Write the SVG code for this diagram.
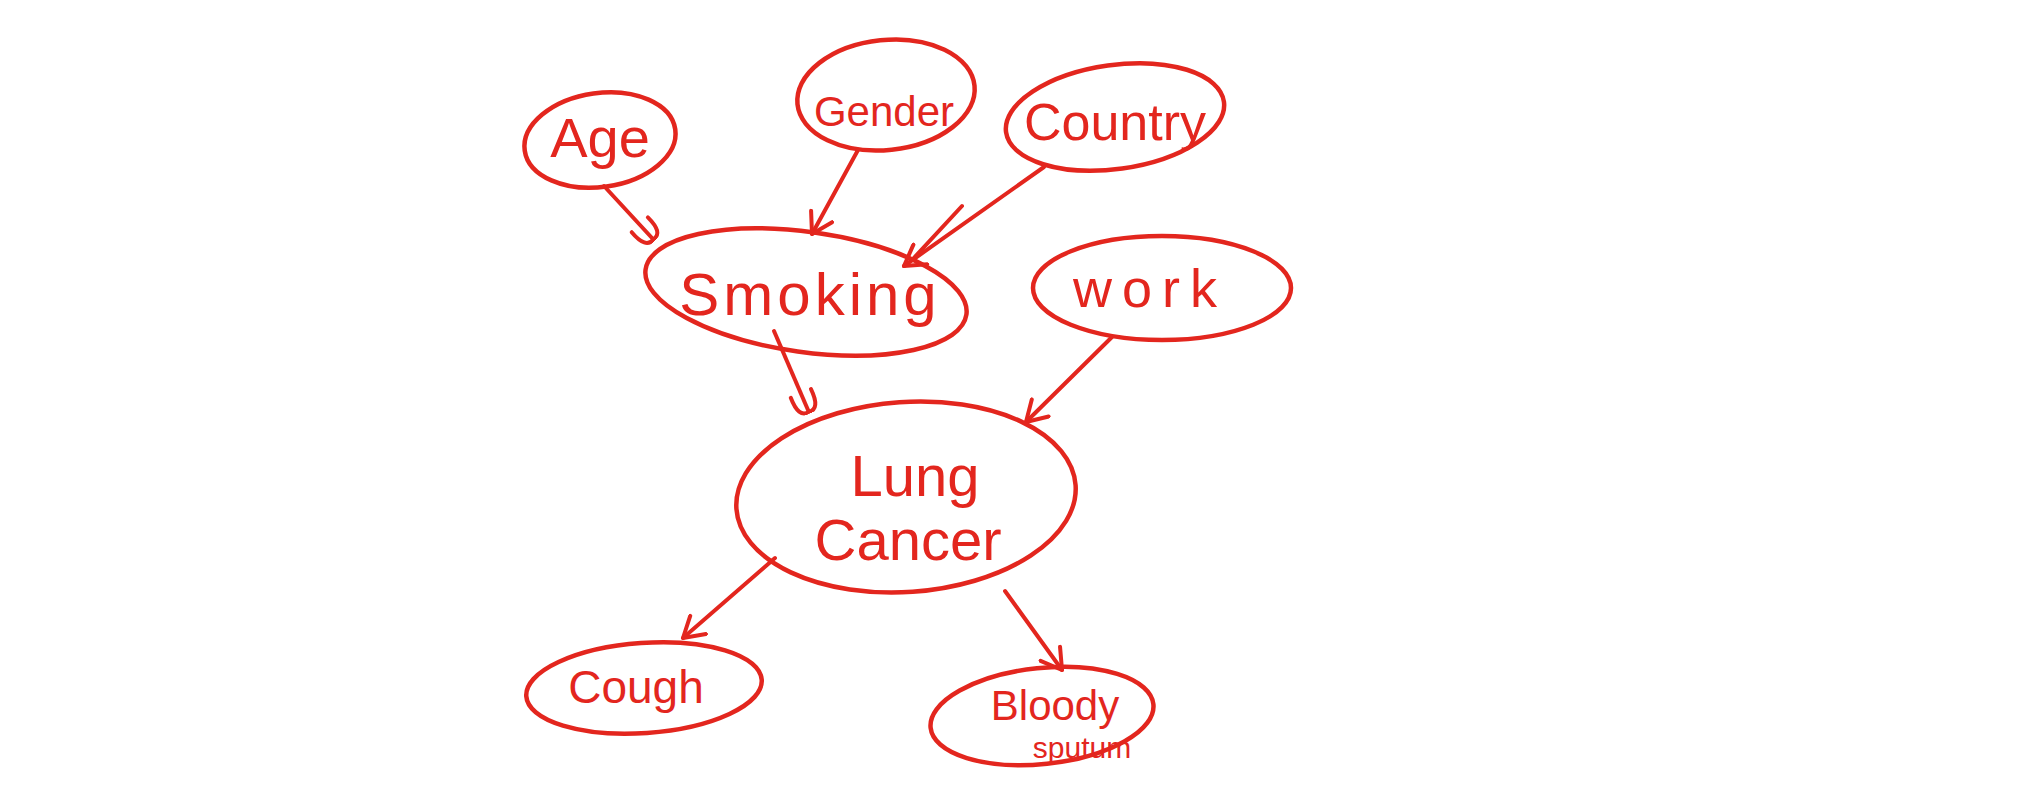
<svg xmlns="http://www.w3.org/2000/svg" width="2033" height="792" viewBox="0 0 2033 792">
<style>
.n{fill:none;stroke:#e3261e;stroke-width:4.5;stroke-linecap:round;stroke-linejoin:round}
.t{fill:#e3261e;font-family:"Liberation Sans","DejaVu Sans",sans-serif;text-anchor:middle}
.c{fill:none;stroke:#e3261e;stroke-width:4;stroke-linecap:round}
</style>
<defs>
<marker id="v" viewBox="-22 -14 26 28" markerWidth="26" markerHeight="28" refX="0" refY="0" orient="auto" markerUnits="userSpaceOnUse">
<polyline points="-20,-12 0,0 -20,12" fill="none" stroke="#e3261e" stroke-width="4" stroke-linecap="round" stroke-linejoin="round"/>
</marker>
<marker id="u" viewBox="-22 -14 26 28" markerWidth="26" markerHeight="28" refX="0" refY="0" orient="auto" markerUnits="userSpaceOnUse">
<path d="M-18,-11 Q4,-12 2,0 Q4,12 -18,11" fill="none" stroke="#e3261e" stroke-width="4" stroke-linecap="round"/>
</marker>
</defs>
<rect width="2033" height="792" fill="#ffffff"/>
<g id="connectors">
<path class="c" d="M604,186 L652,238" marker-end="url(#u)"/>
<path class="c" d="M858,150 L812,234" marker-end="url(#v)"/>
<path class="c" d="M1044,167 L904,266" marker-end="url(#v)"/>
<path class="c" d="M962,206 L912,260"/>
<path class="c" d="M774,331 L808,410" marker-end="url(#u)"/>
<path class="c" d="M1112,337 L1026,422" marker-end="url(#v)"/>
<path class="c" d="M775,558 L683,638" marker-end="url(#v)"/>
<path class="c" d="M1005,591 L1062,670" marker-end="url(#v)"/>
</g>
<g id="age">
<ellipse class="n" cx="600" cy="140" rx="76" ry="47" transform="rotate(-8 600 140)"/>
<text class="t" x="600" y="157" font-size="56">Age</text>
</g>
<g id="gender">
<ellipse class="n" cx="886" cy="95" rx="89" ry="55" transform="rotate(-6 886 95)"/>
<text class="t" x="884" y="126" font-size="42">Gender</text>
</g>
<g id="country">
<ellipse class="n" cx="1115" cy="117" rx="110" ry="52" transform="rotate(-8 1115 117)"/>
<text class="t" x="1115" y="140" font-size="52">Country</text>
</g>
<g id="smoking">
<ellipse class="n" cx="806" cy="292" rx="162" ry="60" transform="rotate(8 806 292)"/>
<text class="t" x="810" y="315" font-size="60" letter-spacing="4">Smoking</text>
</g>
<g id="work">
<ellipse class="n" cx="1162" cy="288" rx="129" ry="52"/>
<text class="t" x="1150" y="307" font-size="54" letter-spacing="10">work</text>
</g>
<g id="lungcancer">
<ellipse class="n" cx="906" cy="497" rx="170" ry="95" transform="rotate(-4 906 497)"/>
<text class="t" x="915" y="496" font-size="58">Lung</text>
<text class="t" x="908" y="560" font-size="58">Cancer</text>
</g>
<g id="cough">
<ellipse class="n" cx="644" cy="688" rx="118" ry="45" transform="rotate(-4 644 688)"/>
<text class="t" x="636" y="703" font-size="46">Cough</text>
</g>
<g id="bloodysputum">
<ellipse class="n" cx="1042" cy="716" rx="112" ry="48" transform="rotate(-6 1042 716)"/>
<text class="t" x="1055" y="720" font-size="42">Bloody</text>
<text class="t" x="1082" y="758" font-size="30">sputum</text>
</g>
</svg>
